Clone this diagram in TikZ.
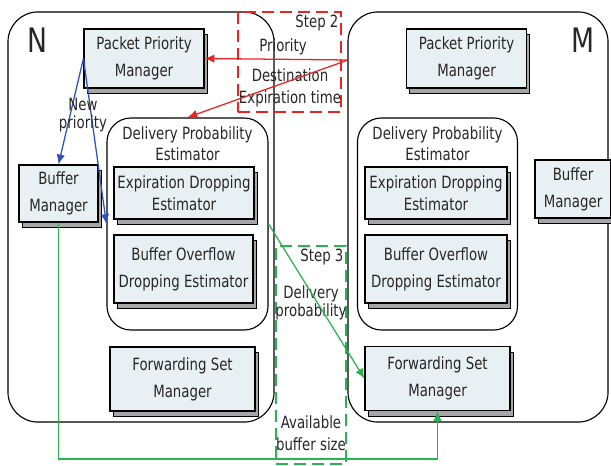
\documentclass[tikz,border=0pt]{standalone}
\usepackage{fontspec}
\setmainfont[FakeStretch=0.79]{DejaVu Sans}
\usetikzlibrary{arrows.meta,shadows}
\definecolor{boxfill}{RGB}{233,240,244}
\definecolor{stepred}{RGB}{235,35,35}
\definecolor{newblue}{RGB}{50,80,190}
\definecolor{stepgreen}{RGB}{40,180,80}
\begin{document}
\begin{tikzpicture}[x=0.025cm, y=-0.025cm,
  every node/.style={font=\fontsize{12}{19}\selectfont, text=black!85, align=center},
  module/.style={draw, thick, fill=boxfill, inner sep=1pt,
    copy shadow={shadow xshift=0.08cm, shadow yshift=-0.14cm, fill=black!35}},
  host/.style={draw, thick, rounded corners=0.75cm},
  estim/.style={draw, thick, rounded corners=0.6cm},
  stepbox/.style={thick, dash pattern=on 0.3cm off 0.15cm},
  flow/.style={line width=0.9pt, -{Latex[length=7pt,width=6pt]}}]
  \useasboundingbox (0,0) rectangle (611,466);

  % the two hosts
  \node[host, minimum width=6.65cm, minimum height=10.25cm] (hostN) at (141,217) {};
  \node[host, minimum width=6.5cm, minimum height=10.25cm] (hostM) at (478,217) {};
  \node[font=\fontsize{24}{24}\selectfont] (labN) at (37,40) {N};
  \node[font=\fontsize{24}{24}\selectfont] (labM) at (583,40) {M};

  % host N
  \node[module, minimum width=3cm, minimum height=1.475cm] (ppmN) at (144,58.5) {Packet Priority\\Manager};
  \node[module, minimum width=1.975cm, minimum height=1.425cm] (bmN) at (58.5,193.5) {Buffer\\Manager};
  \node[estim, minimum width=4.025cm, minimum height=5.3cm] (dpeN) at (187.5,224) {};
  \node[font=\fontsize{12}{15}\selectfont] (dpeNlab) at (187.5,144) {Delivery Probability\\Estimator};
  \node[module, minimum width=3.5cm, minimum height=1.3cm, font=\fontsize{12}{16}\selectfont] (edeN) at (184,193) {Expiration Dropping\\Estimator};
  \node[module, minimum width=3.475cm, minimum height=1.7cm] (bodeN) at (183.5,269) {Buffer Overflow\\Dropping Estimator};
  \node[module, minimum width=3.625cm, minimum height=1.6cm] (fsmN) at (182.5,379) {Forwarding Set\\Manager};

  % host M
  \node[module, minimum width=3cm, minimum height=1.475cm] (ppmM) at (466.5,58.5) {Packet Priority\\Manager};
  \node[module, minimum width=1.9cm, minimum height=1.45cm] (bmM) at (573,189) {Buffer\\Manager};
  \node[estim, minimum width=4cm, minimum height=5.3cm] (dpeM) at (437.5,224) {};
  \node[font=\fontsize{12}{15}\selectfont] (dpeMlab) at (437.5,144) {Delivery Probability\\Estimator};
  \node[module, minimum width=3.55cm, minimum height=1.3cm, font=\fontsize{12}{16}\selectfont] (edeM) at (436,193) {Expiration Dropping\\Estimator};
  \node[module, minimum width=3.55cm, minimum height=1.7cm] (bodeM) at (436,269) {Buffer Overflow\\Dropping Estimator};
  \node[module, minimum width=3.625cm, minimum height=1.6cm] (fsmM) at (437.5,378.5) {Forwarding Set\\Manager};

  % step 2
  \node[stepbox, draw=stepred, minimum width=2.575cm, minimum height=2.5cm] (step2) at (289.5,62) {};
  \node[anchor=north east, inner sep=2pt] (step2lab) at (step2.north east) {Step 2};
  \node (prio) at (283,47) {Priority};
  \node[font=\fontsize{12}{16}\selectfont] (dest) at (290,88) {Destination\\Expiration time};
  \coordinate (src) at (348,60);
  \draw[flow, stepred] (src) -- (ppmN.east);
  \draw[flow, stepred] (src) -- (dpeN.north);

  % new priority
  \draw[flow, newblue] (ppmN.west) -- (bmN.north);
  \draw[flow, newblue] (ppmN.west) -- (dpeN.west);
  \node[font=\fontsize{12}{13}\selectfont] (newprio) at (83,115) {New\\priority};

  % step 3
  \node[stepbox, draw=stepgreen, minimum width=1.75cm, minimum height=5.45cm] (step3) at (311,355) {};
  \node[anchor=north east, inner sep=2pt] (step3lab) at (step3.north east) {Step 3};
  \node[font=\fontsize{12}{13}\selectfont] (delprob) at (311,303) {Delivery\\probability};
  \node[font=\fontsize{12}{16}\selectfont] (avail) at (311,433) {Available\\buffer size};
  \coordinate (bend) at (437.5,459);
  \draw[flow, stepgreen] (dpeN.east) -- (fsmM.west);
  \draw[flow, stepgreen] (bmN.south) |- (bend) -- (fsmM.south);
\end{tikzpicture}
\end{document}
